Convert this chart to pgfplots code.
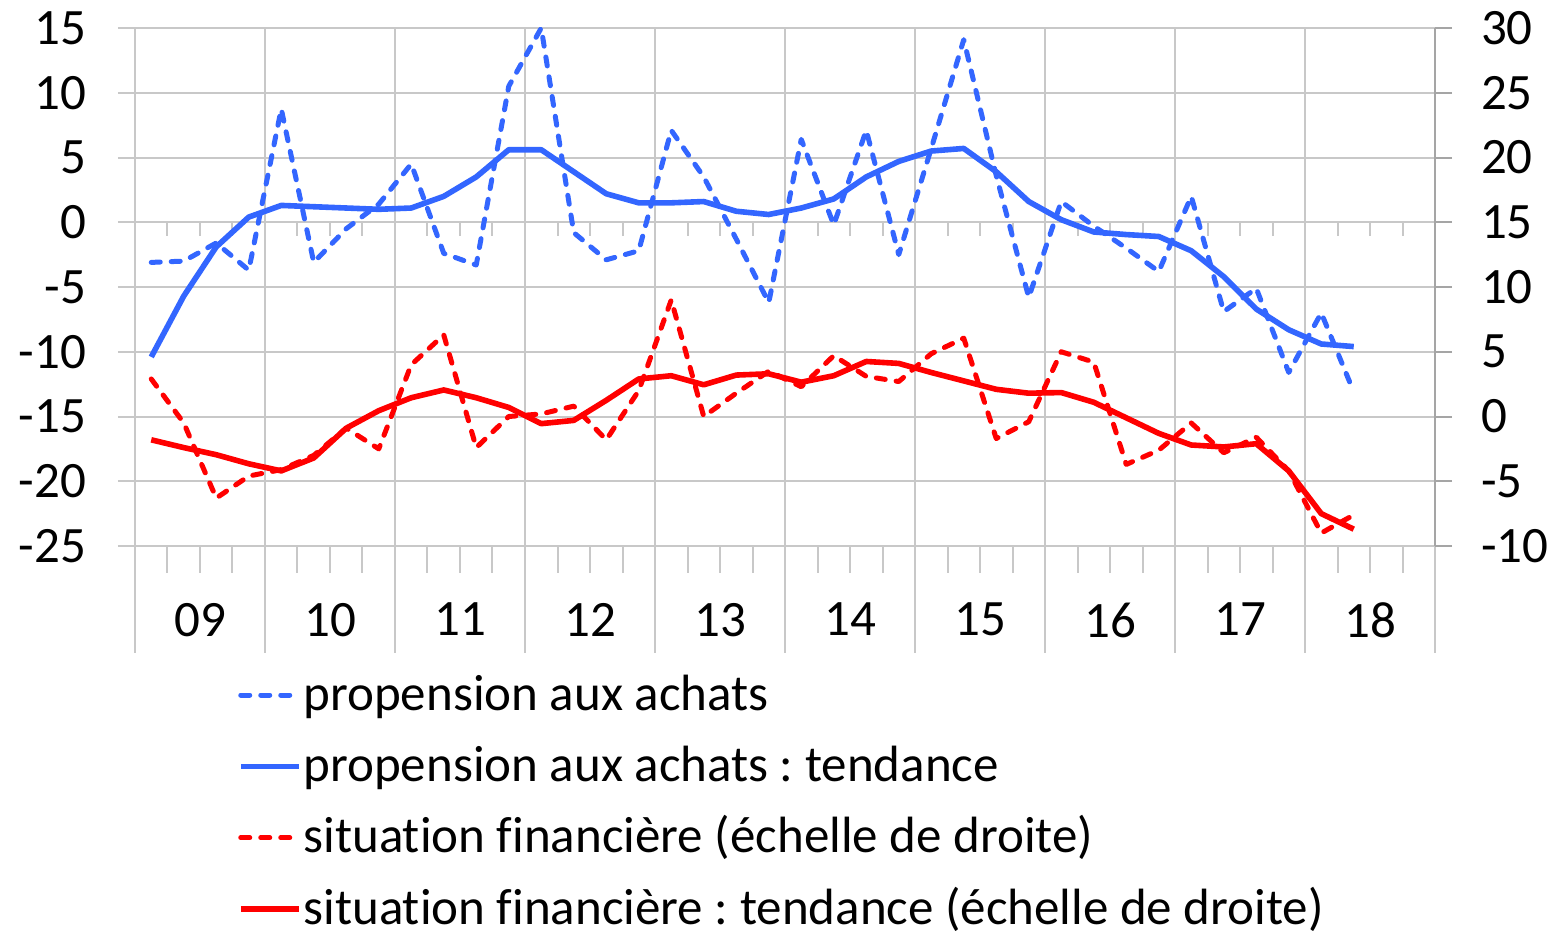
\documentclass[border=0pt]{standalone}
\usepackage{fontspec}
\setmainfont{Carlito}[Ligatures=NoCommon]
\usepackage{pgfplots}
\pgfplotsset{compat=1.18}
\frenchspacing

\definecolor{bleu}{RGB}{51,102,255}
\definecolor{rouge}{RGB}{255,0,0}
\definecolor{grille}{RGB}{200,200,200}
\definecolor{axe}{RGB}{165,165,165}

\pgfplotsset{
  base/.style={
    width=650pt, height=259pt, scale only axis,
    xmin=-0.5, xmax=39.5,
    tick label style={font=\fontsize{25.5}{30}\selectfont},
    major tick length=8.5pt, tick align=outside,
    clip=false,
  },
  pointille/.style={line width=2.5pt, dash pattern=on 4.5pt off 5.5pt, line cap=round, line join=round},
  plein/.style={line width=2.8pt, line join=round},
}

\begin{document}
\begin{tikzpicture}
\path[use as bounding box] (-67.5pt,-194pt) rectangle (710pt,273pt);

% echelle de gauche : propension aux achats
\begin{axis}[base, name=main,
  ymin=-25, ymax=15,
  ytick={-25,-20,...,15},
  yticklabels={-25,-20,-15,-10,-5,0,5,10,15},
  axis y line*=left, axis x line*=bottom,
  axis line style={grille, line width=1pt},
  xtick={-0.5,3.5,...,39.5},
  x tick label as interval,
  xticklabels={09,10,11,12,13,14,15,16,17,18},
  xtick style={draw=none},
  ytick style={grille, line width=1pt},
  grid=major, grid style={grille, line width=1pt},
  xticklabel style={yshift=-16.5pt},
  yticklabel style={xshift=-12.5pt},
]
\pgfplotsextra{
  \foreach \k in {0,...,10} {
    \pgfmathsetmacro\xx{4*\k-0.5}
    \draw[grille, line width=1pt] (axis cs:\xx,-25) -- ([yshift=-53.5pt]axis cs:\xx,-25);
  }
  \foreach \k in {0,...,9} {
    \foreach \q in {1,2,3} {
      \pgfmathsetmacro\xx{4*\k+\q-0.5}
      \draw[grille, line width=1pt] (axis cs:\xx,-25) -- ([yshift=-13.5pt]axis cs:\xx,-25);
      \draw[grille, line width=1pt] (axis cs:\xx,0) -- ([yshift=-7pt]axis cs:\xx,0);
    }
  }
}

\addplot[bleu, pointille] coordinates {
  (0,-3.1) (1,-3.0) (2,-1.6) (3,-3.7) (4,8.75) (5,-3.1) (6,-0.5) (7,1.4)
  (8,4.5) (9,-2.4) (10,-3.3) (11,10.5) (12,15.0) (13,-0.8) (14,-2.9) (15,-2.2)
  (16,7.1) (17,3.5) (18,-1.3) (19,-6.2) (20,6.4) (21,-0.2) (22,7.1) (23,-2.5)
  (24,5.7) (25,14.1) (26,3.6) (27,-5.8) (28,1.6) (29,-0.3) (30,-2.0) (31,-3.8)
  (32,2.0) (33,-6.9) (34,-5.1) (35,-11.6) (36,-7.0) (37,-13.1)
};
\addplot[bleu, plein] coordinates {
  (0,-10.4) (1,-5.7) (2,-1.9) (3,0.4) (4,1.3) (5,1.2) (6,1.1) (7,1.0)
  (8,1.1) (9,2.0) (10,3.5) (11,5.6) (12,5.6) (13,3.9) (14,2.2) (15,1.5)
  (16,1.5) (17,1.6) (18,0.85) (19,0.6) (20,1.1) (21,1.8) (22,3.5) (23,4.7)
  (24,5.5) (25,5.7) (26,3.9) (27,1.6) (28,0.2) (29,-0.75) (30,-0.95) (31,-1.1)
  (32,-2.2) (33,-4.2) (34,-6.7) (35,-8.3) (36,-9.4) (37,-9.6)
};
\end{axis}

% echelle de droite : situation financiere
\begin{axis}[base,
  ymin=-10, ymax=30,
  ytick={-10,-5,...,30},
  yticklabels={-10,-5,0,5,10,15,20,25,30},
  axis y line*=right, axis x line=none,
  xtick=\empty,
  axis line style={axe, line width=1pt},
  ytick style={axe, line width=1pt},
  yticklabel style={xshift=11pt},
  legend cell align=left,
  legend image code/.code={\draw[#1] (1pt,0pt) -- (30pt,0pt);},
  legend style={draw=none, fill=none, at={(0.0792,-0.2317)}, anchor=north west,
    inner sep=0pt, outer sep=0pt, row sep=6.7pt,
    font=\fontsize{25.5}{30}\selectfont,
    nodes={inner sep=1pt, text height=21pt, text depth=6pt}},
]
\addlegendimage{bleu, pointille}
\addlegendentry{propension aux achats}
\addlegendimage{bleu, plein}
\addlegendentry{propension aux achats : tendance}

\addplot[rouge, pointille] coordinates {
  (0,2.9) (1,-0.5) (2,-6.3) (3,-4.6) (4,-4.1) (5,-3.0) (6,-0.9) (7,-2.5)
  (8,4.0) (9,6.3) (10,-2.4) (11,0.0) (12,0.2) (13,0.8) (14,-1.8) (15,2.0)
  (16,9.0) (17,0.0) (18,1.8) (19,3.5) (20,2.3) (21,4.7) (22,3.1) (23,2.7)
  (24,4.85) (25,6.05) (26,-1.7) (27,-0.4) (28,5.0) (29,4.2) (30,-3.7) (31,-2.6)
  (32,-0.5) (33,-2.8) (34,-1.6) (35,-4.2) (36,-9.0) (37,-7.6)
};
\addlegendentry{situation financière (échelle de droite)}
\addplot[rouge, plein] coordinates {
  (0,-1.8) (1,-2.4) (2,-2.95) (3,-3.65) (4,-4.2) (5,-3.2) (6,-0.9) (7,0.45)
  (8,1.45) (9,2.05) (10,1.45) (11,0.7) (12,-0.55) (13,-0.3) (14,1.25) (15,2.9)
  (16,3.15) (17,2.45) (18,3.2) (19,3.3) (20,2.65) (21,3.15) (22,4.25) (23,4.1)
  (24,3.4) (25,2.75) (26,2.1) (27,1.8) (28,1.85) (29,1.1) (30,-0.1) (31,-1.3)
  (32,-2.2) (33,-2.35) (34,-2.1) (35,-4.2) (36,-7.5) (37,-8.7)
};
\addlegendentry{situation financière : tendance (échelle de droite)}
\end{axis}
\end{tikzpicture}
\end{document}
